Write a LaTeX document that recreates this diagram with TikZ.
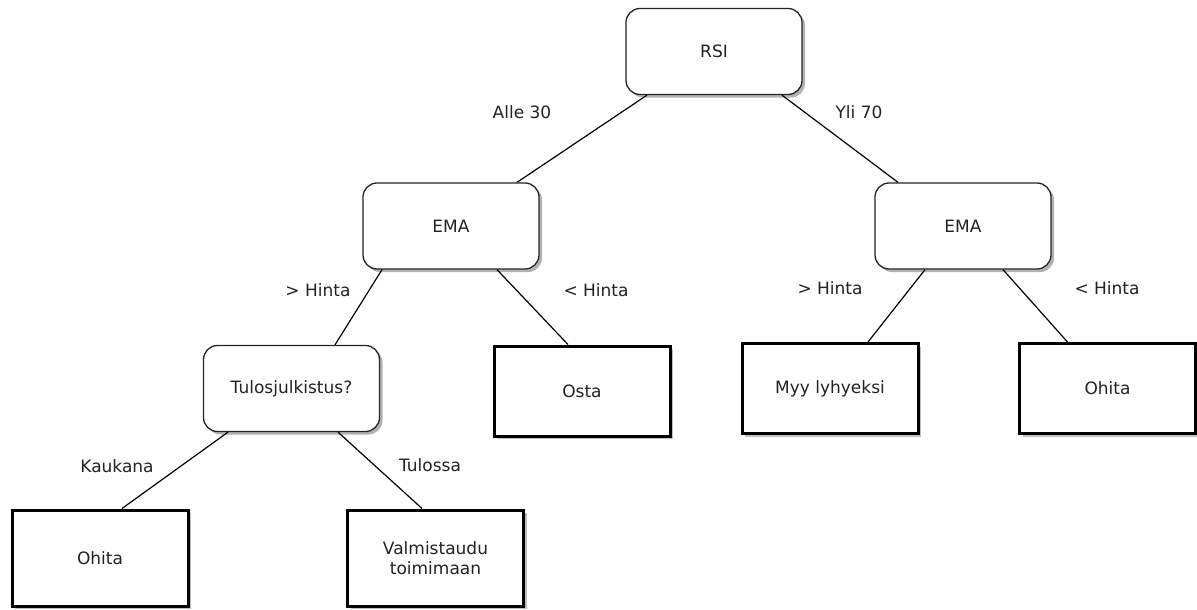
\documentclass[tikz,border=0pt]{standalone}
\usepackage{fontspec}
\setmainfont{DejaVu Sans}
\usetikzlibrary{shadows}
\definecolor{txt}{HTML}{222222}
\tikzset{
  rbox/.style={draw=black!85, line width=1.3pt, rounded corners=14pt, fill=white,
    minimum width=176pt, minimum height=86pt, inner sep=0pt, text=txt,
    drop shadow={shadow xshift=3pt, shadow yshift=-3pt, fill=black, opacity=0.3}},
  sbox/.style={draw=black, line width=3pt, fill=white,
    minimum width=176pt, minimum height=90pt, inner sep=0pt, text=txt, align=center,
    drop shadow={shadow xshift=3pt, shadow yshift=-3pt, fill=black, opacity=0.25}},
  lbl/.style={text=txt, inner sep=0pt},
  conn/.style={draw=black, line width=1.2pt}
}
\begin{document}
\begin{tikzpicture}[x=1pt,y=-1pt,font=\fontsize{17}{20.5}\selectfont]
\useasboundingbox (0,0) rectangle (1197,610);
% nodes
\node[rbox] (rsi) at (714,51.5) {RSI};
\node[rbox] (emaL) at (451,226) {EMA};
\node[rbox] (emaR) at (963,226) {EMA};
\node[rbox] (tulos) at (291.5,388.5) {Tulosjulkistus?};
\node[sbox] (osta) at (582,391) {Osta};
\node[sbox] (myy) at (830,388.5) {Myy lyhyeksi};
\node[sbox] (ohitaR) at (1107.5,388.5) {Ohita};
\node[sbox, minimum height=96pt] (ohitaL) at (100,558) {Ohita};
\node[sbox, minimum height=96pt] (valm) at (435.5,558) {Valmistaudu\\toimimaan};
% connectors
\draw[conn] ([xshift=-67pt]rsi.south) -- ([xshift=66pt]emaL.north);
\draw[conn] ([xshift=68pt]rsi.south) -- ([xshift=-65pt]emaR.north);
\draw[conn] ([xshift=-69pt]emaL.south) -- ([xshift=43.5pt]tulos.north);
\draw[conn] ([xshift=46pt]emaL.south) -- ([xshift=-14pt]osta.north);
\draw[conn] ([xshift=-38pt]emaR.south) -- ([xshift=38pt]myy.north);
\draw[conn] ([xshift=40pt]emaR.south) -- ([xshift=-40pt]ohitaR.north);
\draw[conn] ([xshift=-63.5pt]tulos.south) -- ([xshift=22pt]ohitaL.north);
\draw[conn] ([xshift=46.5pt]tulos.south) -- ([xshift=-13.5pt]valm.north);
% labels
\node[lbl] (l1) at (522,112) {Alle 30};
\node[lbl] (l2) at (859,112) {Yli 70};
\node[lbl] (l3) at (318,290) {> Hinta};
\node[lbl] (l4) at (596,290) {< Hinta};
\node[lbl] (l5) at (830,288) {> Hinta};
\node[lbl] (l6) at (1107,288) {< Hinta};
\node[lbl] (l7) at (117,466) {Kaukana};
\node[lbl] (l8) at (430,465) {Tulossa};
\end{tikzpicture}
\end{document}
